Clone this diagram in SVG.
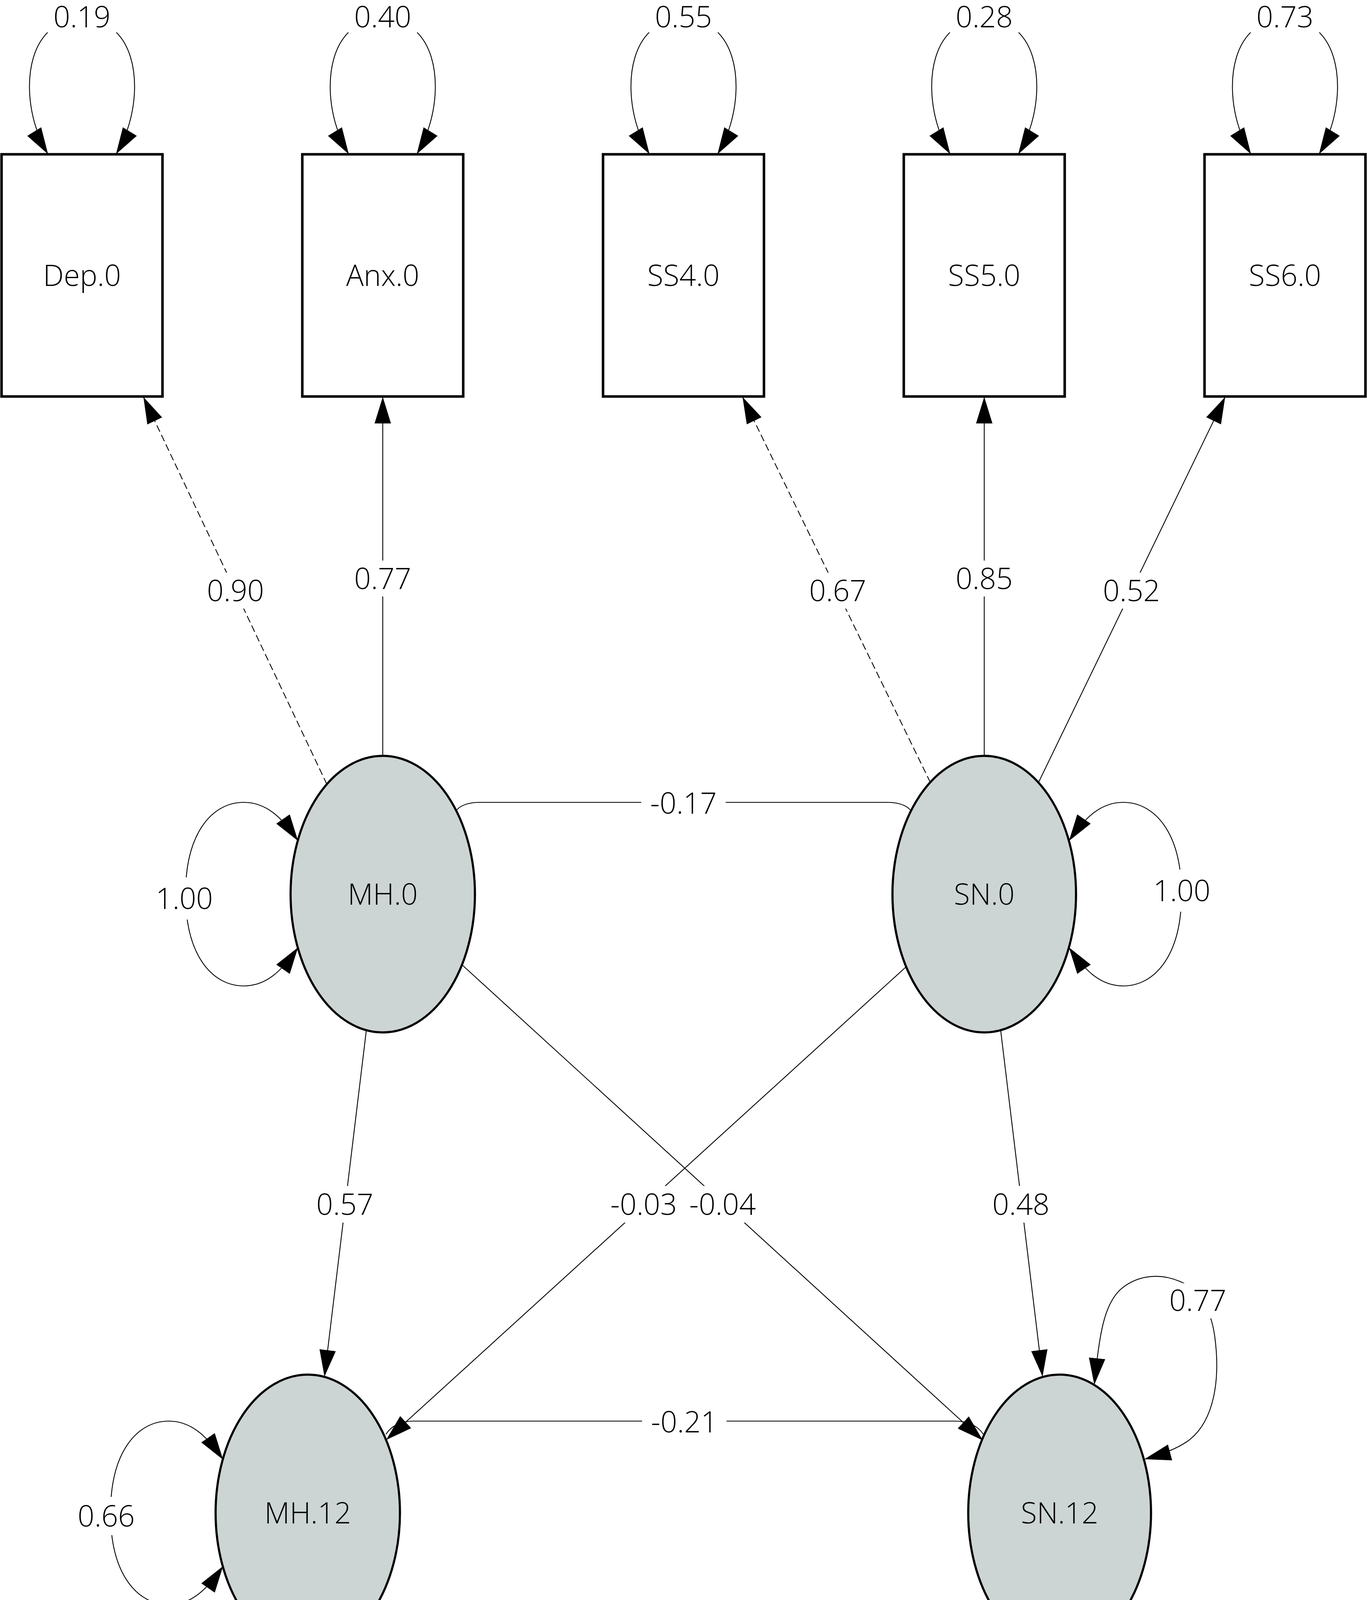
<svg xmlns="http://www.w3.org/2000/svg" width="3500" height="6180" viewBox="0 0 3500 6180">
<defs>
<style>
.box{fill:#fff;stroke:#000;stroke-width:6.5}
.lat{fill:#cdd5d4;stroke:#000;stroke-width:5.5}
.e{fill:none;stroke:#000;stroke-width:2.2}
.ea{fill:none;stroke:#000;stroke-width:2.2;marker-end:url(#ah)}
.eb{fill:none;stroke:#000;stroke-width:2.2;marker-start:url(#ah);marker-end:url(#ah)}
.d{stroke-dasharray:18 9}
.t{font-family:"Open Sans","Noto Sans","Liberation Sans",sans-serif;font-size:75px;font-weight:300;text-anchor:middle;fill:#000}
.bg{fill:#fff;stroke:none}
</style>
<marker id="ah" viewBox="0 0 68 42" refX="66" refY="21" markerWidth="68" markerHeight="42" markerUnits="userSpaceOnUse" orient="auto-start-reverse">
<path d="M0,0 L68,21 L0,42 z" fill="#000"/>
</marker>
</defs>
<rect x="0" y="0" width="3500" height="6180" fill="#fff"/>

<g id="connectors">
<path class="ea d" d="M837,2008 L368,1018"/>
<path class="ea" d="M980,1936 L980,1018"/>
<path class="ea d" d="M2382,2003 L1902,1018"/>
<path class="ea" d="M2520,1936 L2520,1018"/>
<path class="ea" d="M2659,2003 L3136,1018"/>
<path class="ea" d="M938,2637 L831,3522"/>
<path class="ea" d="M2562,2637 L2669,3522"/>
<path class="ea" d="M1183,2470 L2515,3686"/>
<path class="ea" d="M2320,2475 L990,3685"/>
<path class="e" d="M1168,2075 Q1185,2054 1230,2054 L2270,2054 Q2315,2054 2332,2075"/>
<path class="e" d="M988,3672 Q1010,3638 1060,3638 L2445,3638 Q2495,3638 2518,3672"/>
<path class="ea d" d="M670,4176 L328,5143"/>
<path class="ea" d="M829,4221 L942,5143"/>
<path class="ea d" d="M2550,4127 L1942,5143"/>
<path class="ea" d="M2673,4221 L2560,5143"/>
<path class="ea" d="M2828,4180 L3174,5143"/>
<path class="eb" d="M762,2151 C720,2090 680,2054 624,2054 C545,2054 475,2130 475,2289 C475,2448 545,2524 624,2524 C680,2524 720,2488 762,2427"/>
<path class="eb" d="M2738,2151 C2780,2090 2820,2054 2876,2054 C2955,2054 3025,2130 3025,2289 C3025,2448 2955,2524 2876,2524 C2820,2524 2780,2488 2738,2427"/>
<path class="eb" d="M570,3735 C528,3674 488,3638 432,3638 C353,3638 283,3714 283,3873 C283,4032 353,4108 432,4108 C488,4108 528,4072 570,4011"/>
<path class="eb" d="M2802,3543 C2815,3420 2825,3340 2870,3300 C2905,3270 2960,3255 3020,3280 C3070,3300 3100,3350 3110,3420 C3125,3530 3110,3640 3040,3690 C3010,3710 2970,3725 2932,3735"/>
<path class="ea" d="M122,83 C55,150 65,300 122,393"/>
<path class="ea" d="M298,83 C365,150 355,300 298,393"/>
<path class="ea" d="M892,83 C825,150 835,300 892,393"/>
<path class="ea" d="M1068,83 C1135,150 1125,300 1068,393"/>
<path class="ea" d="M1662,83 C1595,150 1605,300 1662,393"/>
<path class="ea" d="M1838,83 C1905,150 1895,300 1838,393"/>
<path class="ea" d="M2432,83 C2365,150 2375,300 2432,393"/>
<path class="ea" d="M2608,83 C2675,150 2665,300 2608,393"/>
<path class="ea" d="M3202,83 C3135,150 3145,300 3202,393"/>
<path class="ea" d="M3378,83 C3445,150 3435,300 3378,393"/>
<path class="ea" d="M122,6077 C55,6010 65,5860 122,5768"/>
<path class="ea" d="M298,6077 C365,6010 355,5860 298,5768"/>
<path class="ea" d="M892,6077 C825,6010 835,5860 892,5768"/>
<path class="ea" d="M1068,6077 C1135,6010 1125,5860 1068,5768"/>
<path class="ea" d="M1662,6077 C1595,6010 1605,5860 1662,5768"/>
<path class="ea" d="M1838,6077 C1905,6010 1895,5860 1838,5768"/>
<path class="ea" d="M2432,6077 C2365,6010 2375,5860 2432,5768"/>
<path class="ea" d="M2608,6077 C2675,6010 2665,5860 2608,5768"/>
<path class="ea" d="M3202,6077 C3135,6010 3145,5860 3202,5768"/>
<path class="ea" d="M3378,6077 C3445,6010 3435,5860 3378,5768"/>

<rect class="bg" x="515" y="1466" width="176" height="92"/><text class="t" x="603" y="1539">0.90</text>
<rect class="bg" x="892" y="1435" width="176" height="92"/><text class="t" x="980" y="1508">0.77</text>
<rect class="bg" x="2057" y="1466" width="176" height="92"/><text class="t" x="2145" y="1539">0.67</text>
<rect class="bg" x="2432" y="1435" width="176" height="92"/><text class="t" x="2520" y="1508">0.85</text>
<rect class="bg" x="2809" y="1466" width="176" height="92"/><text class="t" x="2897" y="1539">0.52</text>
<rect class="bg" x="1642" y="2010" width="216" height="92"/><text class="t" x="1750" y="2083">-0.17</text>
<rect class="bg" x="384" y="2246" width="176" height="108"/><text class="t" x="472" y="2327">1.00</text>
<rect class="bg" x="2938" y="2226" width="176" height="108"/><text class="t" x="3026" y="2307">1.00</text>
<rect class="bg" x="795" y="3036" width="176" height="94"/><text class="t" x="883" y="3110">0.57</text>
<rect class="bg" x="1548" y="3036" width="200" height="94"/><text class="t" x="1648" y="3110">-0.03</text>
<rect class="bg" x="1750" y="3036" width="200" height="94"/><text class="t" x="1850" y="3110">-0.04</text>
<rect class="bg" x="2526" y="3036" width="176" height="94"/><text class="t" x="2614" y="3110">0.48</text>
<rect class="bg" x="2985" y="3285" width="170" height="90"/><text class="t" x="3067" y="3356">0.77</text>
<rect class="bg" x="1644" y="3594" width="216" height="92"/><text class="t" x="1752" y="3667">-0.21</text>
<rect class="bg" x="184" y="3832" width="176" height="98"/><text class="t" x="272" y="3908">0.66</text>
<rect class="bg" x="409" y="4621" width="176" height="92"/><text class="t" x="497" y="4694">0.92</text>
<rect class="bg" x="798" y="4640" width="176" height="92"/><text class="t" x="886" y="4713">0.81</text>
<rect class="bg" x="2155" y="4595" width="176" height="92"/><text class="t" x="2243" y="4668">0.69</text>
<rect class="bg" x="2528" y="4640" width="176" height="92"/><text class="t" x="2616" y="4713">0.85</text>
<rect class="bg" x="2914" y="4620" width="176" height="92"/><text class="t" x="3002" y="4693">0.54</text>
<text class="t" x="210" y="70">0.19</text>
<text class="t" x="980" y="70">0.40</text>
<text class="t" x="1750" y="70">0.55</text>
<text class="t" x="2520" y="70">0.28</text>
<text class="t" x="3290" y="70">0.73</text>
<text class="t" x="210" y="6155">0.15</text>
<text class="t" x="980" y="6155">0.34</text>
<text class="t" x="1750" y="6155">0.52</text>
<text class="t" x="2520" y="6155">0.27</text>
<text class="t" x="3290" y="6155">0.70</text>
</g>

<g id="Dep0"><rect class="box" x="4" y="395" width="412" height="620"/><text class="t" x="210" y="732">Dep.0</text></g>
<g id="Anx0"><rect class="box" x="774" y="395" width="412" height="620"/><text class="t" x="980" y="732">Anx.0</text></g>
<g id="SS40"><rect class="box" x="1544" y="395" width="412" height="620"/><text class="t" x="1750" y="732">SS4.0</text></g>
<g id="SS50"><rect class="box" x="2314" y="395" width="412" height="620"/><text class="t" x="2520" y="732">SS5.0</text></g>
<g id="SS60"><rect class="box" x="3084" y="395" width="412" height="620"/><text class="t" x="3290" y="732">SS6.0</text></g>

<g id="MH0"><ellipse class="lat" cx="980" cy="2289" rx="236" ry="354"/><text class="t" x="980" y="2316">MH.0</text></g>
<g id="SN0"><ellipse class="lat" cx="2520" cy="2289" rx="235" ry="354"/><text class="t" x="2520" y="2316">SN.0</text></g>
<g id="MH12"><ellipse class="lat" cx="788" cy="3873" rx="236" ry="354"/><text class="t" x="788" y="3900">MH.12</text></g>
<g id="SN12"><ellipse class="lat" cx="2713" cy="3873" rx="234" ry="354"/><text class="t" x="2713" y="3900">SN.12</text></g>

<g id="Dep12"><rect class="box" x="4" y="5146" width="412" height="620"/><text class="t" x="210" y="5483">Dep.12</text></g>
<g id="Anx12"><rect class="box" x="774" y="5146" width="412" height="620"/><text class="t" x="980" y="5483">Anx.12</text></g>
<g id="SS412"><rect class="box" x="1544" y="5146" width="412" height="620"/><text class="t" x="1750" y="5483">SS4.12</text></g>
<g id="SS512"><rect class="box" x="2314" y="5146" width="412" height="620"/><text class="t" x="2520" y="5483">SS5.12</text></g>
<g id="SS612"><rect class="box" x="3084" y="5146" width="412" height="620"/><text class="t" x="3290" y="5483">SS6.12</text></g>
</svg>
